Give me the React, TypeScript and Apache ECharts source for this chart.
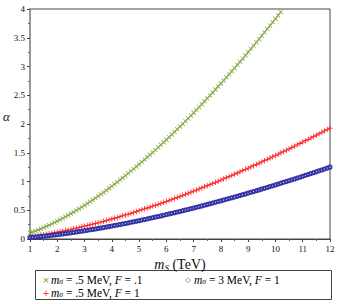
import React, { useEffect, useRef } from "react";
import * as echarts from "echarts";

const mS = [
  1.0, 1.1, 1.2, 1.3, 1.4, 1.5, 1.6, 1.7, 1.8, 1.9, 2.0, 2.1, 2.2, 2.3, 2.4, 2.5, 2.6, 2.7, 2.8, 2.9,
  3.0, 3.1, 3.2, 3.3, 3.4, 3.5, 3.6, 3.7, 3.8, 3.9, 4.0, 4.1, 4.2, 4.3, 4.4, 4.5, 4.6, 4.7, 4.8, 4.9,
  5.0, 5.1, 5.2, 5.3, 5.4, 5.5, 5.6, 5.7, 5.8, 5.9, 6.0, 6.1, 6.2, 6.3, 6.4, 6.5, 6.6, 6.7, 6.8, 6.9,
  7.0, 7.1, 7.2, 7.3, 7.4, 7.5, 7.6, 7.7, 7.8, 7.9, 8.0, 8.1, 8.2, 8.3, 8.4, 8.5, 8.6, 8.7, 8.8, 8.9,
  9.0, 9.1, 9.2, 9.3, 9.4, 9.5, 9.6, 9.7, 9.8, 9.9, 10.0, 10.1, 10.2, 10.3, 10.4, 10.5, 10.6, 10.7, 10.8, 10.9,
  11.0, 11.1, 11.2, 11.3, 11.4, 11.5, 11.6, 11.7, 11.8, 11.9, 12.0,
];

// m_sigma = .5 MeV, F = .1 (green crosses) — leaves the frame above alpha = 4
const alphaGreen = [
  0.106, 0.122, 0.14, 0.159, 0.178, 0.199, 0.22, 0.241, 0.264, 0.287, 0.311, 0.336, 0.361, 0.387, 0.413, 0.441, 0.468, 0.497, 0.526, 0.555,
  0.586, 0.616, 0.648, 0.679, 0.712, 0.745, 0.778, 0.812, 0.847, 0.882, 0.917, 0.953, 0.99, 1.027, 1.064, 1.102, 1.141, 1.18, 1.219, 1.259,
  1.299, 1.34, 1.381, 1.423, 1.465, 1.507, 1.55, 1.594, 1.638, 1.682, 1.726, 1.772, 1.817, 1.863, 1.909, 1.956, 2.003, 2.051, 2.099, 2.147,
  2.196, 2.245, 2.294, 2.344, 2.395, 2.445, 2.496, 2.548, 2.6, 2.652, 2.704, 2.757, 2.811, 2.864, 2.918, 2.973, 3.027, 3.082, 3.138, 3.194,
  3.25, 3.306, 3.363, 3.42, 3.478, 3.536, 3.594, 3.653, 3.712, 3.771, 3.83, 3.89, 3.951,
];

// m_sigma = .5 MeV, F = 1 (red plus signs)
const alphaRed = [
  0.04, 0.046, 0.053, 0.06, 0.068, 0.075, 0.083, 0.092, 0.1, 0.109, 0.118, 0.127, 0.137, 0.147, 0.157, 0.167, 0.178, 0.188, 0.199, 0.211,
  0.222, 0.234, 0.246, 0.258, 0.27, 0.282, 0.295, 0.308, 0.321, 0.334, 0.348, 0.361, 0.375, 0.389, 0.404, 0.418, 0.432, 0.447, 0.462, 0.477,
  0.493, 0.508, 0.524, 0.539, 0.555, 0.572, 0.588, 0.604, 0.621, 0.638, 0.655, 0.672, 0.689, 0.706, 0.724, 0.742, 0.76, 0.778, 0.796, 0.814,
  0.833, 0.851, 0.87, 0.889, 0.908, 0.927, 0.947, 0.966, 0.986, 1.005, 1.025, 1.045, 1.066, 1.086, 1.106, 1.127, 1.148, 1.169, 1.19, 1.211,
  1.232, 1.254, 1.275, 1.297, 1.319, 1.341, 1.363, 1.385, 1.407, 1.43, 1.452, 1.475, 1.498, 1.521, 1.544, 1.567, 1.591, 1.614, 1.638, 1.661,
  1.685, 1.709, 1.733, 1.757, 1.782, 1.806, 1.831, 1.855, 1.88, 1.905, 1.93,
];

// m_sigma = 3 MeV, F = 1 (blue diamonds)
const alphaBlue = [
  0.026, 0.03, 0.034, 0.039, 0.044, 0.049, 0.054, 0.059, 0.065, 0.07, 0.076, 0.082, 0.089, 0.095, 0.101, 0.108, 0.115, 0.122, 0.129, 0.136,
  0.144, 0.151, 0.159, 0.167, 0.175, 0.183, 0.191, 0.199, 0.208, 0.216, 0.225, 0.234, 0.243, 0.252, 0.261, 0.271, 0.28, 0.29, 0.299, 0.309,
  0.319, 0.329, 0.339, 0.349, 0.36, 0.37, 0.381, 0.391, 0.402, 0.413, 0.424, 0.435, 0.446, 0.457, 0.469, 0.48, 0.492, 0.503, 0.515, 0.527,
  0.539, 0.551, 0.563, 0.576, 0.588, 0.6, 0.613, 0.625, 0.638, 0.651, 0.664, 0.677, 0.69, 0.703, 0.716, 0.73, 0.743, 0.757, 0.77, 0.784,
  0.798, 0.812, 0.826, 0.84, 0.854, 0.868, 0.882, 0.897, 0.911, 0.926, 0.94, 0.955, 0.97, 0.985, 1.0, 1.015, 1.03, 1.045, 1.06, 1.076,
  1.091, 1.107, 1.122, 1.138, 1.154, 1.169, 1.185, 1.201, 1.217, 1.234, 1.25,
];

const xTicks = [1, 12];
const yTicks = [0, 4];

const GREEN = "#6e9a2c";
const RED = "#ff1f1f";
const BLUE = "#3434a6";
const SERIF = "Liberation Serif";

const PLUS = "path://M4.3,0h1.4v4.3h4.3v1.4h-4.3v4.3h-1.4v-4.3h-4.3v-1.4h4.3z";

const pairs = (ys: number[]) => ys.map((y, i) => [mS[i], y]);

const mathRich = {
  r: { fontFamily: SERIF, fontSize: 11.5, lineHeight: 10, color: "#111" },
  i: { fontFamily: SERIF, fontSize: 11.5, lineHeight: 10, fontStyle: "italic", color: "#111" },
  s: { fontFamily: SERIF, fontSize: 7.5, lineHeight: 6, fontStyle: "italic", color: "#111", padding: [3, 0, 0, 0] },
};

export default function App() {
  const ref = useRef<HTMLDivElement>(null);
  useEffect(() => {
    if (!ref.current) return;
    const chart = echarts.init(ref.current, null, { renderer: "svg" });
    chart.setOption({
      animation: false,
      grid: {
        left: 30,
        right: 8,
        top: 9,
        bottom: 65,
        show: true,
        borderColor: "#444",
        borderWidth: 1,
        backgroundColor: "transparent",
      },
      xAxis: {
        type: "value",
        min: xTicks[0],
        max: xTicks[1],
        interval: 1,
        name: "{i|m}{s|S}{r| (TeV)}",
        nameLocation: "middle",
        nameGap: 15,
        nameTextStyle: {
          rich: {
            r: { fontFamily: SERIF, fontSize: 14, color: "#111" },
            i: { fontFamily: SERIF, fontSize: 14, fontStyle: "italic", color: "#111" },
            s: { fontFamily: SERIF, fontSize: 9, fontStyle: "italic", color: "#111", padding: [6, 0, 0, 0] },
          },
        },
        axisLine: { show: true, lineStyle: { color: "#444", width: 1 } },
        axisTick: { show: true, inside: false, length: 3, lineStyle: { color: "#444" } },
        minorTick: { show: true, splitNumber: 2, length: 2, lineStyle: { color: "#666" } },
        splitLine: { show: false },
        axisLabel: { fontFamily: SERIF, fontSize: 9, color: "#111", margin: 5 },
      },
      yAxis: {
        type: "value",
        min: yTicks[0],
        max: yTicks[1],
        interval: 0.5,
        axisLine: { show: true, lineStyle: { color: "#999", width: 2 } },
        axisTick: { show: true, inside: false, length: 3, lineStyle: { color: "#444" } },
        minorTick: { show: true, splitNumber: 2, length: 2, lineStyle: { color: "#666" } },
        splitLine: { show: false },
        axisLabel: { fontFamily: SERIF, fontSize: 9, color: "#111", margin: 5 },
      },
      series: [
        {
          name: "green",
          type: "line",
          data: pairs(alphaGreen),
          symbol: PLUS,
          symbolRotate: 45,
          symbolSize: 6,
          showAllSymbol: true,
          itemStyle: { color: "#8fb34f" },
          lineStyle: { color: "#5d8a22", width: 1.2 },
          z: 3,
        },
        {
          name: "red",
          type: "line",
          data: pairs(alphaRed),
          symbol: PLUS,
          symbolSize: 5.5,
          showAllSymbol: true,
          itemStyle: { color: RED },
          lineStyle: { color: RED, width: 0.8 },
          z: 4,
        },
        {
          name: "blue",
          type: "line",
          data: pairs(alphaBlue),
          symbol: "emptyCircle",
          symbolSize: 3.2,
          showAllSymbol: true,
          itemStyle: { color: BLUE, borderColor: BLUE, borderWidth: 0.6 },
          lineStyle: { color: BLUE, width: 0.4 },
          z: 5,
        },
      ],
      graphic: [
        {
          type: "text",
          left: 3,
          top: 110,
          style: { text: "α", fontFamily: SERIF, fontSize: 13, fontStyle: "italic", fill: "#111" },
        },
        {
          type: "rect",
          shape: { x: 35.5, y: 270.5, width: 296, height: 29 },
          style: { fill: "#fff", stroke: "#444", lineWidth: 1 },
        },
        {
          type: "text",
          x: 46,
          y: 280,
          style: { text: "×", fontFamily: "DejaVu Sans", fontSize: 9, fill: GREEN, align: "center", verticalAlign: "middle" },
        },
        {
          type: "text",
          x: 51,
          y: 280,
          style: {
            text: "{i|m}{s|σ}{r| = .5 MeV, }{i|F}{r| = .1}",
            rich: mathRich,
            verticalAlign: "middle",
          },
        },
        {
          type: "text",
          x: 188,
          y: 280,
          style: { text: "◇", fontFamily: "DejaVu Sans", fontSize: 7, fill: BLUE, align: "center", verticalAlign: "middle" },
        },
        {
          type: "text",
          x: 194,
          y: 280,
          style: {
            text: "{i|m}{s|σ}{r| = 3 MeV, }{i|F}{r| = 1}",
            rich: mathRich,
            verticalAlign: "middle",
          },
        },
        {
          type: "text",
          x: 46,
          y: 293,
          style: { text: "+", fontFamily: "DejaVu Sans", fontSize: 9, fill: RED, align: "center", verticalAlign: "middle" },
        },
        {
          type: "text",
          x: 51,
          y: 293,
          style: {
            text: "{i|m}{s|σ}{r| = .5 MeV, }{i|F}{r| = 1}",
            rich: mathRich,
            verticalAlign: "middle",
          },
        },
      ],
    });
    return () => chart.dispose();
  }, []);
  return <div ref={ref} style={{ width: 338, height: 304, position: "absolute", left: 0, top: 0 }} />;
}
